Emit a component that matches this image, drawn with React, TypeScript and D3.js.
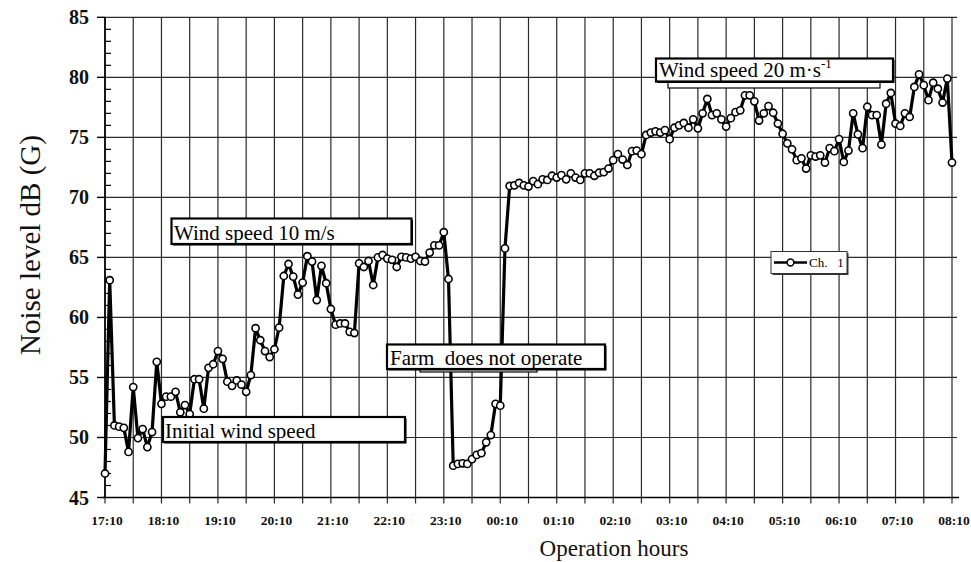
import React from "react";
import * as d3 from "d3";

// ---- data ----
const hourLabels = [
  "17:10", "18:10", "19:10", "20:10", "21:10", "22:10", "23:10", "00:10",
  "01:10", "02:10", "03:10", "04:10", "05:10", "06:10", "07:10", "08:10",
];
const sampleStepMin = 5;
const yTickValues = [45, 50, 55, 60, 65, 70, 75, 80, 85];
const seriesName = "Ch. 1";
const noiseDb = [
  47.0, 63.1, 51.0, 50.9, 50.8, 48.8, 54.2, 49.95, 50.7, 49.2,
  50.45, 56.3, 52.8, 53.4, 53.4, 53.8, 52.1, 52.7, 51.95, 54.85,
  54.85, 52.4, 55.8, 56.1, 57.2, 56.55, 54.65, 54.3, 54.75, 54.4,
  53.8, 55.2, 59.1, 58.1, 57.2, 56.7, 57.35, 59.15, 63.45, 64.45,
  63.4, 61.9, 62.9, 65.1, 64.65, 61.45, 64.3, 62.85, 60.7, 59.4,
  59.5, 59.5, 58.8, 58.7, 64.5, 64.2, 64.7, 62.7, 65.0, 65.2,
  64.9, 64.8, 64.2, 65.05, 65.0, 64.9, 65.05, 64.7, 64.65, 65.4,
  66.0, 66.0, 67.1, 63.2, 47.65, 47.8, 47.85, 47.8, 48.2, 48.55,
  48.7, 49.6, 50.2, 52.8, 52.65, 65.75, 70.95, 71.0, 71.2, 71.0,
  70.9, 71.35, 71.1, 71.5, 71.45, 71.8, 71.65, 71.85, 71.5, 72.0,
  71.65, 71.45, 72.0, 72.0, 71.8, 72.05, 72.1, 72.4, 73.1, 73.6,
  73.15, 72.7, 73.85, 73.9, 73.6, 75.2, 75.4, 75.5, 75.4, 75.6,
  74.85, 75.8, 76.0, 76.2, 75.8, 76.5, 75.75, 77.0, 78.2, 76.85,
  77.0, 76.5, 75.9, 76.6, 77.1, 77.25, 78.5, 78.5, 78.0, 76.4,
  77.0, 77.6, 77.05, 76.15, 75.3, 74.5, 74.0, 73.1, 73.25, 72.4,
  73.5, 73.4, 73.5, 72.9, 74.1, 73.85, 74.85, 72.95, 73.9, 77.0,
  75.25, 74.1, 77.55, 76.85, 76.85, 74.4, 77.8, 78.7, 76.15, 75.95,
  77.0, 76.7, 79.2, 80.25, 79.35, 78.1, 79.55, 79.05, 77.9, 79.9,
  72.9,
];
const noteInitial = "Initial wind speed";
const noteWind10 = "Wind speed 10 m/s";
const noteFarm = "Farm  does not operate";
const noteWind20 = "Wind speed 20 m\u00B7s";
const noteWind20Sup = "-1";
const xTitle = "Operation hours";
const yTitle = "Noise level dB (G)";

const FONT = "'Liberation Serif', 'Times New Roman', serif";

export default function App() {
  const W = 971;
  const H = 562;
  const totalMin = (hourLabels.length - 1) * 60;
  const x = d3.scaleLinear().domain([0, totalMin]).range([105, 952]);
  const y = d3.scaleLinear().domain([45, 85]).range([497.5, 17.3]);

  const pts: [number, number][] = noiseDb.map((v, i) => [x(i * sampleStepMin), y(v)]);
  const path = d3.line()(pts) || "";
  const halfHours = d3.range(0, totalMin + 1, 30);
  const minorTicks = d3.range(45, 86, 1).filter((v) => v % 5 !== 0);
  const gridRight = 957;

  const box = (bx: number, by: number, bw: number, bh: number, heavy = true) => (
    <g>
      {heavy && <rect x={bx + 1.5} y={by + 1.5} width={bw} height={bh} fill="#000" />}
      <rect x={bx} y={by} width={bw} height={bh} fill="#fff" stroke="#000" strokeWidth={heavy ? 2.2 : 1.2} />
    </g>
  );

  return (
    <svg
      width={W}
      height={H}
      style={{ position: "absolute", left: 0, top: 0, background: "#fff" }}
      fontFamily={FONT}
    >
      <rect x={0} y={0} width={W} height={H} fill="#fff" />
      {/* horizontal gridlines */}
      {yTickValues.map((v) => (
        <line key={"h" + v} x1={x(0)} x2={gridRight} y1={y(v)} y2={y(v)} stroke="#2a2a2a" strokeWidth={1.2} />
      ))}
      {/* vertical gridlines + ticks */}
      {halfHours.map((m) => (
        <line key={"v" + m} x1={x(m)} x2={x(m)} y1={y(85)} y2={y(45) + 6} stroke="#2a2a2a" strokeWidth={1.2} />
      ))}
      {/* axes */}
      <line x1={x(0)} x2={x(0)} y1={y(85)} y2={y(45)} stroke="#000" strokeWidth={1.6} />
      <line x1={x(0) - 2} x2={gridRight + 2} y1={y(45)} y2={y(45)} stroke="#000" strokeWidth={1.6} />
      {yTickValues.map((v) => (
        <line key={"yt" + v} x1={x(0) - 8} x2={x(0)} y1={y(v)} y2={y(v)} stroke="#000" strokeWidth={1.4} />
      ))}
      {minorTicks.map((v) => (
        <line key={"ym" + v} x1={x(0)} x2={x(0) + 6} y1={y(v)} y2={y(v)} stroke="#000" strokeWidth={1.2} />
      ))}
      {yTickValues.map((v) => (
        <text key={"yl" + v} x={89} y={y(v) + 7} textAnchor="end" fontSize={20} fontWeight="bold" fill="#111">
          {v}
        </text>
      ))}
      {hourLabels.map((lab, i) => (
        <text key={"xl" + lab} x={x(i * 60) + 2} y={525} textAnchor="middle" fontSize={13.5} fontWeight="bold" fill="#111">
          {lab}
        </text>
      ))}
      {/* titles */}
      <text x={614} y={556} textAnchor="middle" fontSize={23} fill="#111">
        {xTitle}
      </text>
      <text transform="translate(40,245) rotate(-90)" textAnchor="middle" fontSize={29} fill="#111">
        {yTitle}
      </text>

      {/* data */}
      <path d={path} fill="none" stroke="#000" strokeWidth={3.2} strokeLinejoin="round" />
      {pts.map(([px, py], i) => (
        <circle key={"p" + i} cx={px} cy={py} r={3.6} fill="#fff" stroke="#000" strokeWidth={1.6} />
      ))}

      {/* annotation boxes */}
      {box(163, 417, 242, 25)}
      <text x={165} y={438} fontSize={21} fill="#000">{noteInitial}</text>

      {box(171.5, 218.5, 240, 25.5)}
      <text x={174} y={239.5} fontSize={21} fill="#000">{noteWind10}</text>

      {box(420, 350, 117, 22, false)}
      {box(387, 344.5, 218, 24.5)}
      <text x={390} y={365} fontSize={21} fill="#000" style={{ whiteSpace: "pre" }}>{noteFarm}</text>

      {box(668, 64, 212, 24, false)}
      {box(656, 58.5, 237, 23)}
      <text x={659} y={77} fontSize={21} fill="#000">
        {noteWind20}
        <tspan fontSize={13} dy={-9}>{noteWind20Sup}</tspan>
      </text>

      {/* legend */}
      <rect x={772.5} y={253} width={76} height={22} fill="#333" />
      <rect x={771} y={251.5} width={76} height={22} fill="#fff" stroke="#333" strokeWidth={1} />
      <line x1={774} x2={807} y1={262.5} y2={262.5} stroke="#000" strokeWidth={2.6} />
      <circle cx={790.5} cy={262.5} r={3.4} fill="#fff" stroke="#000" strokeWidth={1.5} />
      <text x={809} y={267} fontSize={13} fill="#000" style={{ whiteSpace: "pre" }}>{seriesName.replace(" ", "   ")}</text>
    </svg>
  );
}
